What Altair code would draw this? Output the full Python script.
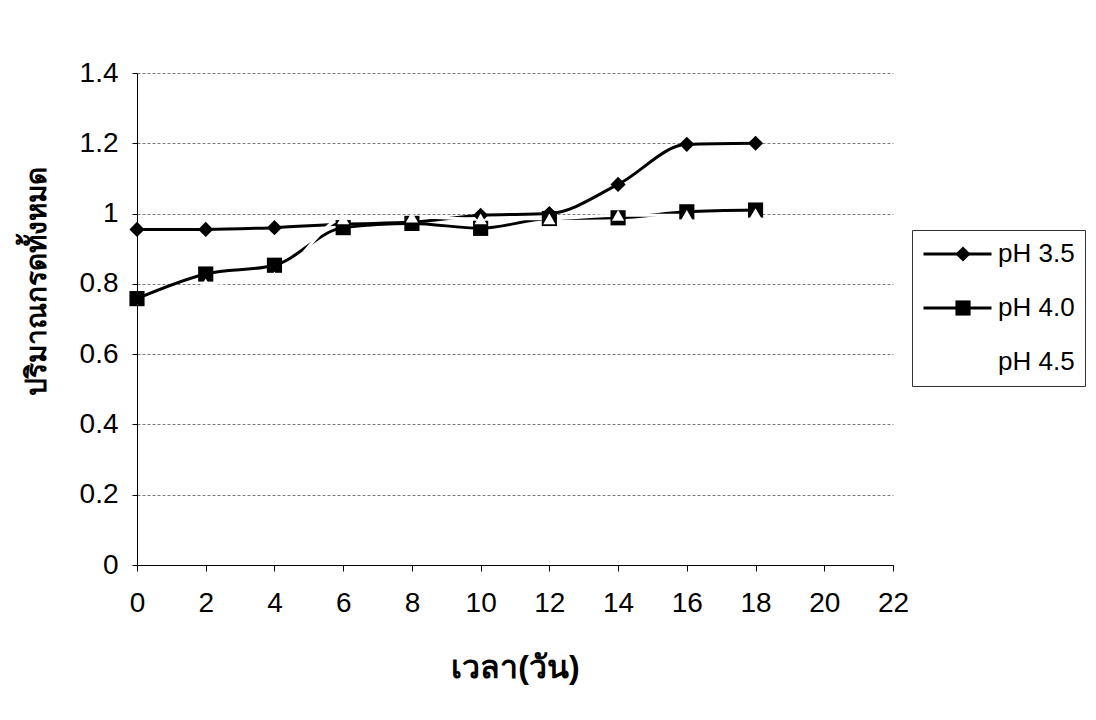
import altair as alt
import pandas as pd

days = [0, 2, 4, 6, 8, 10, 12, 14, 16, 18]
series_names = ["pH 3.5", "pH 4.0", "pH 4.5"]
ph35 = [0.955, 0.955, 0.96, 0.97, 0.975, 0.995, 1.0, 1.083, 1.197, 1.2]
ph40 = [0.758, 0.828, 0.853, 0.96, 0.972, 0.958, 0.986, 0.988, 1.005, 1.01]
ph45 = [None, 0.80, 0.82, 0.985, 0.99, 0.985, 0.985, 0.995, 0.995, 1.0]
colors = ["#000000", "#000000", "#ffffff"]
marker_series = ["pH 3.5", "pH 4.0"]
marker_shapes = ["diamond", "square"]
y_ticks = [0, 0.2, 0.4, 0.6, 0.8, 1.0, 1.2, 1.4]
x_ticks = list(range(0, 23, 2))

rows = []
for name, vals in zip(series_names, [ph35, ph40, ph45]):
    for d, v in zip(days, vals):
        if v is not None:
            rows.append({"day": d, "value": v, "series": name, "marker": name})
df = pd.DataFrame(rows)

FONT = "Liberation Sans, Arial, sans-serif"

x_enc = alt.X(
    "day:Q",
    scale=alt.Scale(domain=[0, 22], nice=False, zero=False),
    axis=alt.Axis(
        values=x_ticks, title="เวลา(วัน)", grid=False, tickSize=6,
        labelPadding=18, labelFontSize=28, labelFont=FONT, labelColor="#000",
        titleFontSize=32, titleFontWeight="bold", titleFont=FONT, titleColor="#000",
        titleBaseline="middle", titleY=102, domainColor="#000", tickColor="#000",
        labelFlush=False,
    ),
)
y_enc = alt.Y(
    "value:Q",
    scale=alt.Scale(domain=[0, 1.4], nice=False),
    axis=alt.Axis(
        values=y_ticks, format="~g", title="ปริมาณกรดทั้งหมด", tickSize=5,
        labelPadding=14, labelFontSize=28, labelFont=FONT, labelColor="#000",
        grid=True, gridColor="#7a7a7a", gridDash=[3, 2], gridWidth=1,
        titleFontSize=28, titleFontWeight="bold", titleFont=FONT, titleColor="#000",
        titleX=-100, titleY=208, titleAngle=-90, titleBaseline="middle",
        domainColor="#000", tickColor="#000",
    ),
)

line_legend = alt.Legend(
    title=None, orient="none", legendX=775, legendY=157,
    symbolType="stroke", symbolSize=4624, symbolStrokeWidth=3,
    clipHeight=28, rowPadding=26, padding=10, labelOffset=5,
    labelFontSize=26, labelFont=FONT, labelColor="#000", labelLimit=0,
    strokeColor="#333333",
)
point_legend = alt.Legend(
    title=None, orient="none", legendX=775, legendY=157,
    symbolSize=230, symbolStrokeWidth=0, symbolOffset=28,
    symbolFillColor="#000000", symbolStrokeColor="#000000", symbolOpacity=1,
    clipHeight=28, rowPadding=26, padding=10, labelOffset=5,
    labelFontSize=26, labelFont=FONT, labelExpr="' '", labelLimit=0,
)

lines = alt.Chart(df).mark_line(interpolate="monotone", strokeWidth=3).encode(
    x=x_enc, y=y_enc,
    color=alt.Color("series:N", scale=alt.Scale(domain=series_names, range=colors), legend=line_legend),
    strokeWidth=alt.StrokeWidth("series:N", scale=alt.Scale(domain=series_names, range=[3, 3, 2]), legend=None),
)
black_points = alt.Chart(df).transform_filter(
    alt.FieldOneOfPredicate(field="marker", oneOf=marker_series)
).mark_point(filled=True, color="#000000", opacity=1, size=230, strokeWidth=0).encode(
    x=x_enc, y=y_enc,
    shape=alt.Shape("marker:N", scale=alt.Scale(domain=marker_series, range=marker_shapes), legend=point_legend),
)
white_points = alt.Chart(df).transform_filter(
    alt.datum.marker == "pH 4.5"
).mark_point(filled=True, color="#ffffff", opacity=1, size=150, strokeWidth=0, shape="triangle-up").encode(
    x=x_enc, y=y_enc,
)

chart = (
    alt.layer(lines, black_points, white_points)
    .properties(
        width=756, height=492,
        autosize=alt.AutoSizeParams(type="none"),
        padding={"left": 129, "top": 65, "right": 195, "bottom": 139},
        background="white",
    )
    .configure_view(stroke=None)
)

chart.save("out.html", embed_options={"renderer": "svg", "actions": False})
